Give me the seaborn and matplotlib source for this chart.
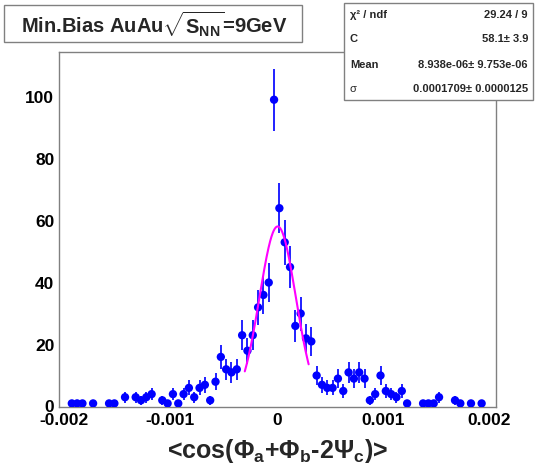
import numpy as np
import pandas as pd
import matplotlib
matplotlib.use("Agg")
import matplotlib.pyplot as plt
import seaborn as sns
from matplotlib.patches import Rectangle

# ---- data (histogram bin centres and contents) ----
bin_centers = [-0.001925, -0.001875, -0.001825, -0.001725, -0.001575, -0.001525,
               -0.001425, -0.001325, -0.001275, -0.001225, -0.001175, -0.001075,
               -0.001025, -0.000975, -0.000925, -0.000875, -0.000825, -0.000775,
               -0.000725, -0.000675, -0.000625, -0.000575, -0.000525, -0.000475,
               -0.000425, -0.000375, -0.000325, -0.000275, -0.000225, -0.000175,
               -0.000125, -0.000075, -0.000025, 0.000025, 0.000075, 0.000125,
               0.000175, 0.000225, 0.000275, 0.000325, 0.000375, 0.000425,
               0.000475, 0.000525, 0.000575, 0.000625, 0.000675, 0.000725,
               0.000775, 0.000825, 0.000875, 0.000925, 0.000975, 0.001025,
               0.001075, 0.001125, 0.001175, 0.001225, 0.001375, 0.001425,
               0.001475, 0.001525, 0.001675, 0.001725, 0.001825, 0.001925]
counts = [1, 1, 1, 1, 1, 1,
          3, 3, 2, 3, 4, 2,
          1, 4, 1, 4, 6, 3,
          6, 7, 2, 8, 16, 12,
          11, 12, 23, 18, 23, 32,
          36, 40, 99, 64, 53, 45,
          26, 30, 22, 21, 10, 7,
          6, 6, 9, 5, 11, 9,
          11, 9, 2, 4, 10, 5,
          4, 3, 5, 1, 1, 1,
          1, 3, 2, 1, 1, 1]

# Gaussian fit parameters (from the stats box)
fit_C = 58.1
fit_mean = 8.938e-06
fit_sigma = 0.0001709
fit_range = (-0.0003, 0.0003)

x_ticks = [-0.002, -0.001, 0.0, 0.001, 0.002]
x_tick_labels = ["-0.002", "-0.001", "0", "0.001", "0.002"]
y_ticks = [0, 20, 40, 60, 80, 100]
y_tick_labels = ["0", "20", "40", "60", "80", "100"]

stat_names = ["\u03c7\u00b2 / ndf", "C", "Mean", "\u03c3"]
stat_values = ["29.24 / 9", "58.1\u00b1 3.9", "8.938e-06\u00b1 9.753e-06",
               "0.0001709\u00b1 0.0000125"]

title_text = r"Min.Bias AuAu$\sqrt{\mathbf{S}_{\mathbf{NN}}}$=9GeV"
xlabel_text = r"<cos($\Phi_{\mathbf{a}}$+$\Phi_{\mathbf{b}}$-2$\Psi_{\mathbf{c}}$)>"

# ---- style ----
sns.set_theme(style="white")
plt.rcParams["font.family"] = ["Liberation Sans", "DejaVu Sans"]
plt.rcParams["font.weight"] = "bold"
plt.rcParams["mathtext.fontset"] = "custom"
plt.rcParams["mathtext.rm"] = "Liberation Sans:bold"
plt.rcParams["mathtext.bf"] = "Liberation Sans:bold"
plt.rcParams["mathtext.it"] = "Liberation Sans:bold"
plt.rcParams["mathtext.sf"] = "Liberation Sans:bold"

W, H = 539, 466
fig = plt.figure(figsize=(W / 100, H / 100), dpi=100)
fig.patch.set_facecolor("white")
L, R, T, B = 58.5, 496, 52, 406.5
ax = fig.add_axes([L / W, 1 - B / H, (R - L) / W, (B - T) / H])
ax.set_facecolor("white")

df = pd.DataFrame({"x": bin_centers, "y": counts})
df["err"] = np.sqrt(df["y"])

ax.errorbar(df["x"], df["y"], yerr=df["err"], fmt="none", ecolor="#2020ff",
            elinewidth=1.4, capsize=0, zorder=2)
sns.scatterplot(data=df, x="x", y="y", ax=ax, color="#0000ff", s=36,
                edgecolor="none", linewidth=0, zorder=3)

xf = np.linspace(fit_range[0], fit_range[1], 200)
yf = fit_C * np.exp(-0.5 * ((xf - fit_mean) / fit_sigma) ** 2)
sns.lineplot(x=xf, y=yf, ax=ax, color="#ff00ff", linewidth=1.5, zorder=4)

ax.set_xlim(-0.00205, 0.00206)
ax.set_ylim(0, 114.4)
ax.set_xticks(x_ticks)
ax.set_xticklabels(x_tick_labels)
ax.set_yticks(y_ticks)
ax.set_yticklabels(y_tick_labels)
ax.set_yticks(np.arange(0, 115, 5), minor=True)

frame_col = "#808080"
for s in ax.spines.values():
    s.set_color(frame_col)
    s.set_linewidth(1.0)
ax.tick_params(axis="both", which="major", direction="in", length=12,
               width=1.0, color=frame_col, labelsize=12.5, labelcolor="black")
ax.tick_params(axis="y", which="minor", direction="in", length=6, width=1.0,
               color=frame_col)
ax.tick_params(axis="x", which="major", pad=5)
ax.tick_params(axis="y", which="major", pad=3)
ax.tick_params(axis="x", which="minor", length=0)
for lab in ax.get_xticklabels() + ax.get_yticklabels():
    lab.set_fontweight("bold")

ax.set_xlabel(xlabel_text, fontsize=18, fontweight="bold", labelpad=6)
ax.set_ylabel("")

# ---- title box ----
fig.add_artist(Rectangle((3.5 / W, 1 - 41.5 / H), (301.5 - 3.5) / W, (41.5 - 5) / H,
                         transform=fig.transFigure, facecolor="white",
                         edgecolor=frame_col, linewidth=1.0, zorder=5))
fig.text(154 / W, 1 - 24 / H, title_text, ha="center", va="center",
         fontsize=14.5, fontweight="bold", zorder=6)

# ---- stats box ----
fig.add_artist(Rectangle((343.5 / W, 1 - 100 / H), (533 - 343.5) / W, (100 - 3) / H,
                         transform=fig.transFigure, facecolor="white",
                         edgecolor=frame_col, linewidth=1.0, zorder=5))
row_y = [15, 39.5, 65, 89.5]
for name, val, yy in zip(stat_names, stat_values, row_y):
    fig.text(350 / W, 1 - yy / H, name, ha="left", va="center", fontsize=8,
             fontweight="bold" if name != "\u03c3" else "normal", zorder=6)
    fig.text(528 / W, 1 - yy / H, val, ha="right", va="center", fontsize=8,
             fontweight="bold", zorder=6)

fig.savefig("out.png", dpi=100)
